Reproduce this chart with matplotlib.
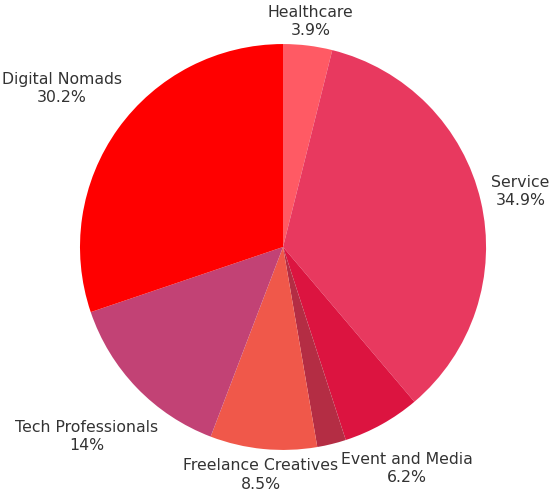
import numpy as np
import matplotlib.pyplot as plt

# segment shares, clockwise from 12 o'clock
segments = ['Healthcare', 'Service', 'Event and Media', 'Other',
            'Freelance Creatives', 'Tech Professionals', 'Digital Nomads']
shares = [3.9, 34.9, 6.2, 2.3, 8.5, 14.0, 30.2]
share_text = ['3.9%', '34.9%', '6.2%', '', '8.5%', '14%', '30.2%']
colors = ['#FF5A64', '#E8395F', '#DC1440', '#B42D44',
          '#F0584A', '#C24275', '#FF0000']
# how far out each label sits (in pie radii)
label_dist = [1.12, 1.20, 1.25, 0, 1.13, 1.345, 1.34]

fig = plt.figure(figsize=(5.49, 4.95), dpi=100)
ax = fig.add_axes([0, 0, 1, 1])
wedges, _ = ax.pie(shares, colors=colors, startangle=90, counterclock=False,
                   radius=1.0, center=(0, 0),
                   wedgeprops=dict(linewidth=0))

for w, name, pct, d in zip(wedges, segments, share_text, label_dist):
    if not pct:
        continue
    mid = np.deg2rad((w.theta1 + w.theta2) / 2)
    x, y = d * np.cos(mid), d * np.sin(mid)
    ax.text(x, y, f'{name}\n{pct}', ha='center', va='center',
            fontsize=11.3, color='#333333', linespacing=1.3,
            family='DejaVu Sans')

ax.set_xlim(-1.394, 1.310)
ax.set_ylim(-1.222, 1.217)
ax.set_aspect('auto')
ax.axis('off')

fig.savefig('out.png', dpi=100)
